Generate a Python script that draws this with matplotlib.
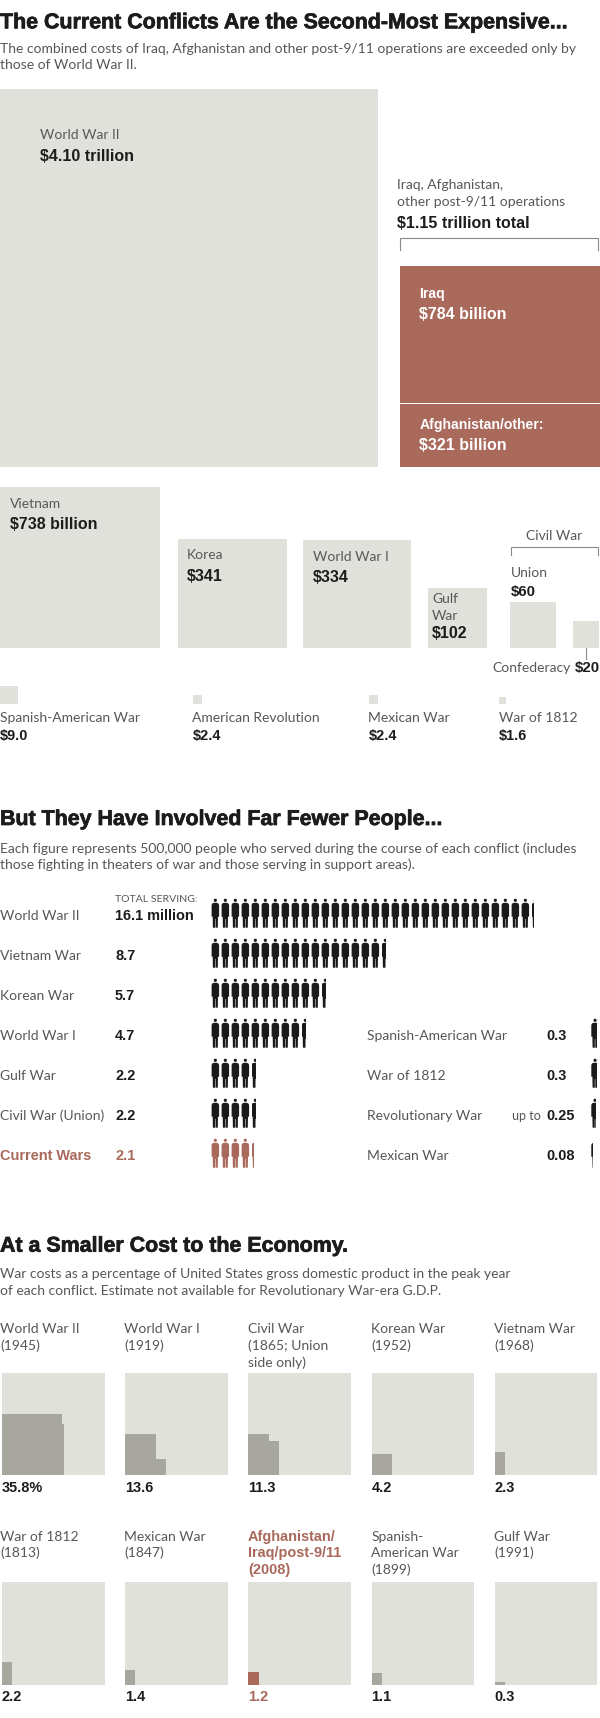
import matplotlib
matplotlib.use("Agg")
import matplotlib.pyplot as plt
from matplotlib.patches import Rectangle, Polygon, Circle
from matplotlib import patheffects
import math

BOLD_FONT = "Liberation Sans"
LIGHT_FONT = "Lato"

GREY = "#e1e1dc"
DARK_GREY = "#a7a79f"
RED = "#a9695b"
INK = "#1c1c1c"
TEXT = "#575757"

# Costo guerras, miles de millones
big_wars = ["World War II", "Vietnam", "Korea", "World War I", "Gulf War", "Union", "Confederacy"]
big_costs = [4100, 738, 341, 334, 102, 60, 20]
small_wars = ["Spanish-American War", "American Revolution", "Mexican War", "War of 1812"]
small_costs = [9.0, 2.4, 2.4, 1.6]
small_cost_labels = ["$9.0", "$2.4", "$2.4", "$1.6"]
iraq_cost = 784
other_cost = 321
current_total = 1150

# Gente, millones
people_left = ["World War II", "Vietnam War", "Korean War", "World War I", "Gulf War", "Civil War (Union)", "Current Wars"]
people_left_vals = [16.1, 8.7, 5.7, 4.7, 2.2, 2.2, 2.1]
people_left_labels = ["16.1 million", "8.7", "5.7", "4.7", "2.2", "2.2", "2.1"]
people_right = ["Spanish-American War", "War of 1812", "Revolutionary War", "Mexican War"]
people_right_vals = [0.3, 0.3, 0.25, 0.08]
people_right_labels = ["0.3", "0.3", "0.25", "0.08"]

# PIB
gdp_names = [
    ["World War II", "(1945)"], ["World War I", "(1919)"], ["Civil War", "(1865; Union", "side only)"],
    ["Korean War", "(1952)"], ["Vietnam War", "(1968)"],
    ["War of 1812", "(1813)"], ["Mexican War", "(1847)"], ["Afghanistan/", "Iraq/post-9/11", "(2008)"],
    ["Spanish-", "American War", "(1899)"], ["Gulf War", "(1991)"],
]
gdp_vals = [35.8, 13.6, 11.3, 4.2, 2.3, 2.2, 1.4, 1.2, 1.1, 0.3]
gdp_labels = ["35.8%", "13.6", "11.3", "4.2", "2.3", "2.2", "1.4", "1.2", "1.1", "0.3"]
# alto de columna en celdas de 1%
gdp_col_height = [6, 4, 4, 2.1, 10, 10, 10, 10, 10, 10]

fig = plt.figure(figsize=(6, 17.18), dpi=100)
ax = fig.add_axes([0, 0, 1, 1])
ax.set_xlim(0, 600)
ax.set_ylim(1718, 0)
ax.axis("off")


def light(x, y, s, size=13.9, color=TEXT, **kw):
    ax.text(x, y, s, fontsize=size * 0.72, color=color, family=LIGHT_FONT, va="baseline", **kw)


def bold(x, y, s, size=16.0, color=INK, **kw):
    ax.text(x, y, s, fontsize=size * 0.72, color=color, family=BOLD_FONT, fontweight="bold", va="baseline", **kw)


def title(y, s):
    t = ax.text(0, y, s, fontsize=21.4 * 0.72, color=INK, family=BOLD_FONT, fontweight="bold", va="baseline")
    t.set_path_effects([patheffects.withStroke(linewidth=0.5, foreground=INK)])


def box(x, y, w, h, color=GREY):
    ax.add_patch(Rectangle((x, y), w, h, facecolor=color, edgecolor="none"))


def bracket(x0, x1, y0, y1):
    ax.plot([x0, x0, x1, x1], [y1, y0, y0, y1], color="#8a8a8a", lw=0.8, solid_joinstyle="miter")


# ---- Costos
PX2 = 34.85  # pixeles cuadrados por mil millones


def side(cost):
    return math.sqrt(cost * PX2)


title(28.3, "The Current Conflicts Are the Second-Most Expensive...")
light(0, 52.7, "The combined costs of Iraq, Afghanistan and other post-9/11 operations are exceeded only by")
light(0, 69, "those of World War II.")

BASE1 = 466.7
s = side(big_costs[0])
box(0, BASE1 - s, s, s)
light(40, 138.7, "World War II")
bold(40, 160.7, "$4.10 trillion")

stack_x = 399.5
stack_w = 600 - stack_x
h_other = (current_total - iraq_cost) * PX2 / stack_w - 0.8
h_iraq = iraq_cost * PX2 / stack_w
box(stack_x, BASE1 - h_other, stack_w, h_other, RED)
box(stack_x, BASE1 - h_other - 1.2 - h_iraq, stack_w, h_iraq, RED)
light(397, 189.3, "Iraq, Afghanistan,")
light(397, 206, "other post-9/11 operations")
bold(397, 227.7, "$1.15 trillion total")
bracket(400, 598, 238.3, 250)
bold(419.4, 298, "Iraq", 14, "white")
bold(419.4, 319, "$784 billion", 16, "white")
bold(419.4, 429, "Afghanistan/other:", 14, "white")
bold(419.4, 449.7, "$321 billion", 16, "white")

BASE2 = 647.7
big_x = [0, 177.6, 303, 427.5, 510, 573]
for x, c in zip(big_x, big_costs[1:]):
    s = side(c)
    box(x, BASE2 - s, s, s)
light(10, 507.7, big_wars[1])
bold(10, 529.3, "$738 billion")
light(187, 559.3, big_wars[2])
bold(187, 581, "$341")
light(313, 560.7, big_wars[3])
bold(313, 582.3, "$334")
light(432, 603.3, "Gulf")
light(432, 620, "War")
bold(432, 637.7, "$102")
light(511, 576.7, big_wars[5])
bold(511, 595.7, "$60", 15)
light(554, 540, "Civil War", ha="center")
bracket(511, 598, 547.3, 555.3)
ax.plot([586, 586], [647.7, 658.7], color="#8a8a8a", lw=0.8)
light(492.5, 672, big_wars[6])
bold(600, 672, "$20", 15, ha="right")

small_x = [0, 192.5, 368.5, 498.6]
for x, name, c, lab in zip(small_x, small_wars, small_costs, small_cost_labels):
    s = side(c)
    box(x, 704 - s, s, s)
    light(x, 721.7, name)
    bold(x, 740, lab, 14.5)


# ---- Gente
def person(x0, base, color, frac=1.0):
    # silueta, con brazos a los lados y piernas separadas
    outline = [(0.6, -16.4), (2, -17.2), (5.4, -17.2), (6.8, -16.4), (7.5, -15), (7.5, -3.3), (6.4, -3.3),
               (6.2, 7.7), (4.0, 7.7), (4.0, -1), (3.5, -1), (3.5, 7.7), (1.3, 7.7), (1.1, -3.3),
               (0, -3.3), (0, -15)]
    parts = [Polygon([(x0 + a, base + b) for a, b in outline], facecolor=color, edgecolor="none"),
             Circle((x0 + 3.75, base - 19.7), 1.6, facecolor=color, edgecolor="none")]
    for p in parts:
        ax.add_patch(p)
        if frac < 1:
            clip = Rectangle((x0, base - 30), 10 * frac, 50, transform=ax.transData)
            p.set_clip_path(clip)


def people_row(x0, base, millions, color):
    n = millions * 2  # cada figura = 500.000
    i = 0
    while n > 0.001:
        person(x0 + i * 10, base, color, min(n, 1.0))
        n -= 1
        i += 1


title(825, "But They Have Involved Far Fewer People...")
light(0, 852.7, "Each figure represents 500,000 people who served during the course of each conflict (includes")
light(0, 869.3, "those fighting in theaters of war and those serving in support areas).")
light(115, 901.7, "TOTAL SERVING:", 10.5)
for i, (name, v, lab) in enumerate(zip(people_left, people_left_vals, people_left_labels)):
    y = 920 + i * 40
    is_current = name == "Current Wars"
    col = RED if is_current else INK
    if is_current:
        bold(0, y, name, 14.5, RED)
    else:
        light(0, y, name)
    bold(115, y, lab, 14.5, col)
    people_row(211.6, y, v, RED if is_current else "#1a1a1a")
for i, (name, v, lab) in enumerate(zip(people_right, people_right_vals, people_right_labels)):
    y = 1040 + i * 40
    light(367.4, y, name)
    bold(546, y, lab, 14.5)
    if lab == "0.25":
        light(511.7, y, "up to", 12.5)
    people_row(591.3, y, v, "#1a1a1a")

# ---- PIB
title(1251.7, "At a Smaller Cost to the Economy.")
light(0, 1278.3, "War costs as a percentage of United States gross domestic product in the peak year")
light(0, 1295, "of each conflict. Estimate not available for Revolutionary War-era G.D.P.")

panel_x = [2, 125, 248.4, 371.6, 494.8]
PANEL = 102.6
CELL = PANEL / 10
for i, (lines, v, lab, colh) in enumerate(zip(gdp_names, gdp_vals, gdp_labels, gdp_col_height)):
    row = i // 5
    x = panel_x[i % 5]
    top = 1372.7 if row == 0 else 1582
    label_y = 1333.3 if row == 0 else 1540.7
    is_current = lab == "1.2"
    for j, line in enumerate(lines):
        lx = x - 2 if i % 5 == 0 else x - 0.5
        if is_current:
            bold(lx, label_y + j * 16.7, line, 14.5, RED)
        else:
            light(lx, label_y + j * 16.7, line)
    box(x, top, PANEL, PANEL)
    bottom = top + PANEL
    fill = RED if is_current else DARK_GREY
    if lab == "35.8%":
        # se llena por filas de 6 celdas
        box(x, bottom - 5 * CELL, 6 * CELL, 5 * CELL, fill)
        box(x, bottom - 6 * CELL, (v - 30) * CELL, CELL, fill)
    else:
        rest = v
        c = 0
        while rest > 0.001:
            h = min(rest, colh)
            box(x + c * CELL, bottom - h * CELL, CELL, h * CELL, fill)
            rest -= h
            c += 1
    bold(x, bottom + 16.7, lab, 14.5, RED if is_current else INK)

fig.savefig("out.png", dpi=100)
